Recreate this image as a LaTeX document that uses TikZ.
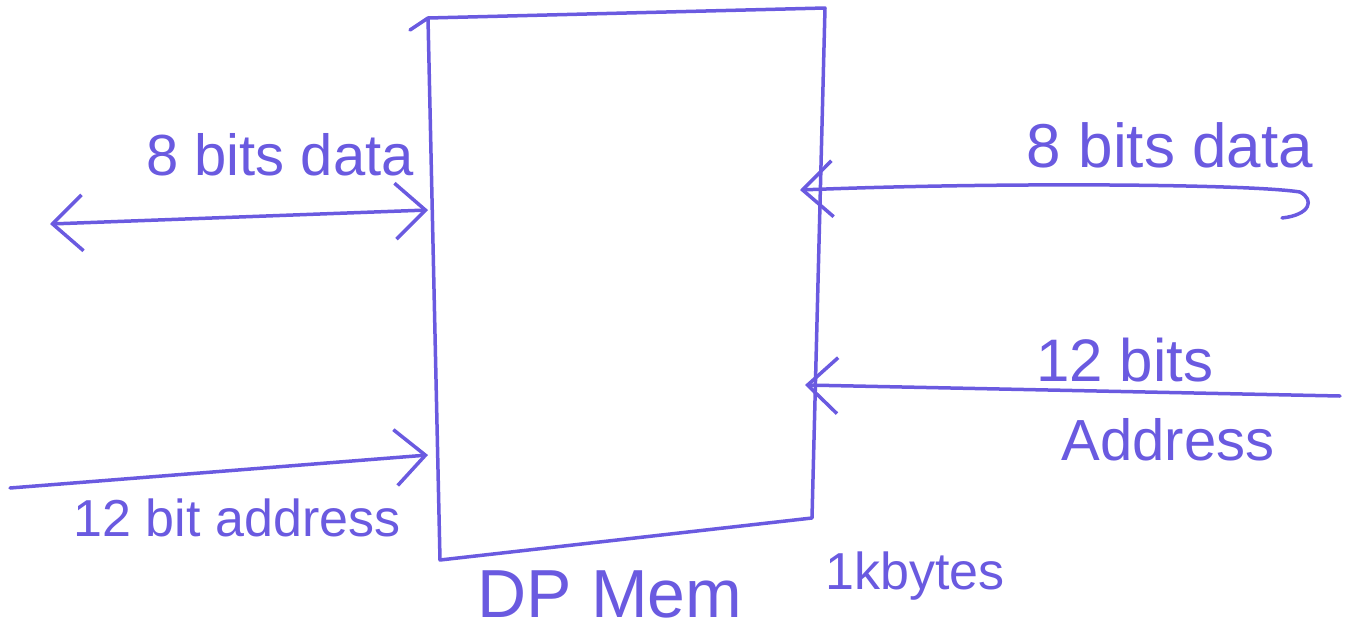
\documentclass[tikz,border=0pt]{standalone}
\usepackage{fontspec}
\setmainfont{Liberation Sans}
\usetikzlibrary{arrows.meta}
\definecolor{pen}{HTML}{6A5AE0}
\tikzset{
  ink/.style={draw=pen,line width=3.5pt,line cap=round,line join=round},
  wire/.style={ink,-{Straight Barb[length=30pt,width=56pt,line width=3.5pt]}},
  dwire/.style={ink,{Straight Barb[length=30pt,width=56pt,line width=3.5pt]}-{Straight Barb[length=30pt,width=56pt,line width=3.5pt]}},
  lbl/.style={text=pen,inner sep=0pt},
  fs/.style={font=\fontsize{#1}{#1}\selectfont}
}
\begin{document}
\begin{tikzpicture}[x=1pt,y=-1pt]
\useasboundingbox (0,0) rectangle (1355,635);
% memory box outline (hand-drawn skew)
\coordinate (tl) at (428,18);
\coordinate (tr) at (825,8);
\coordinate (br) at (812,518);
\coordinate (bl) at (440,560);
\draw[ink] (410,30) -- (tl) -- (tr) -- (br) -- (bl) -- (tl);
\node (mem) at (620,290) {};
% ports on the box
\coordinate (pL1) at (428,210);
\coordinate (pL2) at (428,455);
\coordinate (pR1) at (800,190);
\coordinate (pR2) at (805,385);
% free ends
\coordinate (eL1) at (50,224);
\coordinate (eL2) at (10,488);
\coordinate (eR1) at (1300,192);
\coordinate (eR2) at (1340,396);
% connectors
\draw[dwire] (eL1) -- (pL1);
\draw[wire] (eL2) -- (pL2);
\draw[wire] (eR1) .. controls (1250,184) and (1000,182) .. (pR1);
\draw[ink] (eR1) .. controls (1315,200) and (1310,215) .. (1282,218);
\draw[wire] (eR2) -- (pR2);
% labels
\node[lbl,fs=58] (t1) at (280,155) {8 bits data};
\node[lbl,fs=52] (t2) at (237,518) {12 bit address};
\node[lbl,fs=62] (t3) at (1170,145) {8 bits data};
\node[lbl,fs=60] (t4) at (1125,360) {12 bits};
\node[lbl,fs=58] (t5) at (1168,440) {Address};
\node[lbl,fs=68] (t6) at (610,594) {DP Mem};
\node[lbl,fs=52] (t7) at (915,576) {1kbytes};
\end{tikzpicture}
\end{document}
